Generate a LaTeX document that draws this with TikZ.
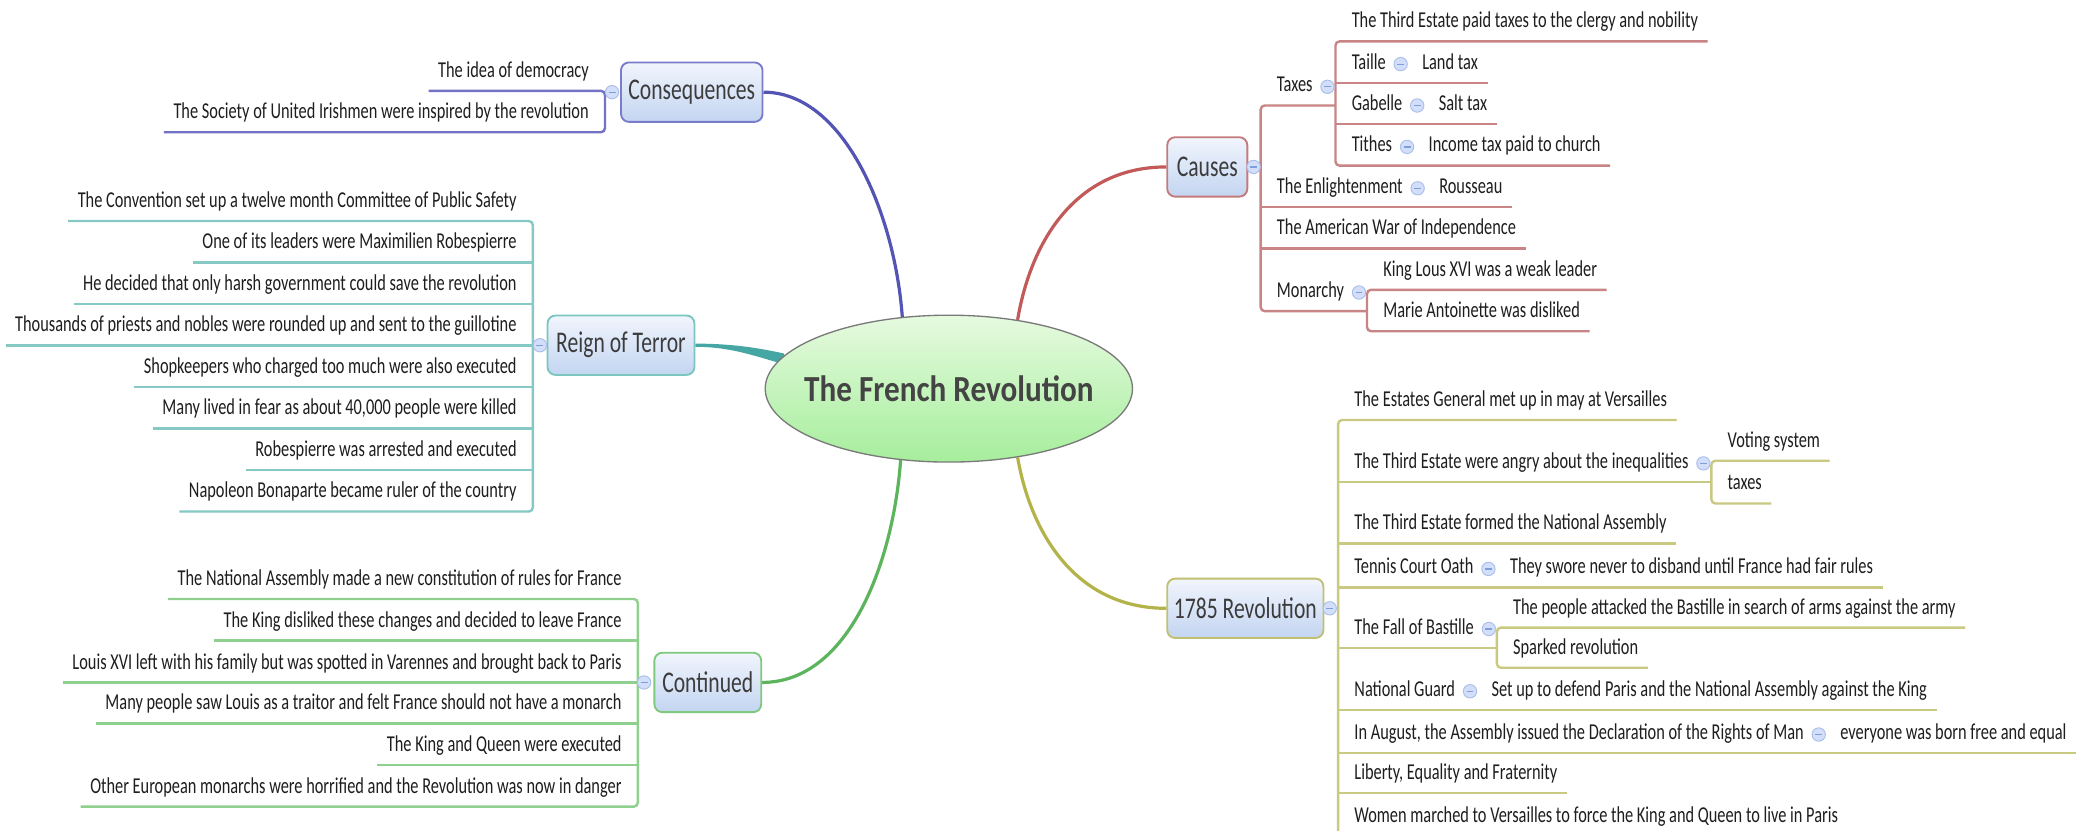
\documentclass[tikz,border=0pt]{standalone}
\usepackage{fontspec}
\usetikzlibrary{shapes.geometric,backgrounds,calc}
\newfontfamily\leaffont{Carlito}[FakeStretch=0.72]
\newfontfamily\titlefont{Carlito}[FakeStretch=0.85]

\definecolor{txt}{HTML}{1E1E1E}
\definecolor{boxTxt}{HTML}{3C3C3C}
\definecolor{boxT}{HTML}{F1F5FD}
\definecolor{boxB}{HTML}{C3D5F1}
\definecolor{ellT}{HTML}{E6FADF}
\definecolor{ellB}{HTML}{A6EE9C}
\definecolor{ellD}{HTML}{7A7A7A}
\definecolor{titleT}{HTML}{444444}
\definecolor{togF}{HTML}{D3DFFA}
\definecolor{togB}{HTML}{A9BFEA}
\definecolor{togM}{HTML}{7F9FD8}
% branch colours: main connector, box border, underline
\definecolor{consM}{HTML}{5454B4}\definecolor{consB}{HTML}{7B7BCC}\definecolor{consL}{HTML}{7272C6}
\definecolor{reignM}{HTML}{45A6A4}\definecolor{reignB}{HTML}{7CC6C0}\definecolor{reignL}{HTML}{86C9C4}
\definecolor{contM}{HTML}{5CB45C}\definecolor{contB}{HTML}{7FC97F}\definecolor{contL}{HTML}{8FD08F}
\definecolor{causM}{HTML}{C25A5A}\definecolor{causB}{HTML}{C57A7A}\definecolor{causL}{HTML}{C98585}
\definecolor{revM}{HTML}{B3B34A}\definecolor{revB}{HTML}{C0C070}\definecolor{revL}{HTML}{C9C982}

\begin{document}
\begin{tikzpicture}[x=1pt,y=-1pt,
  leaf/.style={font=\leaffont\fontsize{17}{20}\selectfont, text=txt, inner xsep=7pt,
               inner ysep=6pt, text height=12pt, text depth=4pt},
  lR/.style={leaf, anchor=south west},
  lL/.style={leaf, anchor=south east},
  topic/.style={rectangle, rounded corners=6pt, draw=#1, line width=1.4pt,
                top color=boxT, bottom color=boxB, minimum height=44.5pt, inner sep=0pt,
                font=\leaffont\fontsize{22.5}{26}\selectfont, text=boxTxt},
  centre/.style={ellipse, draw=ellD, line width=1pt, top color=ellT, bottom color=ellB,
                minimum width=275pt, minimum height=110pt, inner sep=0pt},
  titletext/.style={inner sep=0pt, font=\titlefont\bfseries\fontsize{27.5}{30}\selectfont, text=titleT},
  tog/.style={circle, draw=togB, fill=togF, line width=0.7pt, minimum size=10pt, inner sep=0pt,
              path picture={\draw[togM, line width=0.9pt]
                ([xshift=-2.6pt]path picture bounding box.center) --
                ([xshift=2.6pt]path picture bounding box.center);}},
  ln/.style={draw=#1, line width=1.8pt, rounded corners=3pt},
  mainc/.style={draw=#1, line width=2.4pt}
]
\useasboundingbox (0,0) rectangle (1568,622);

% central topic
\node[centre] (fr) at (710.5,291) {};
\node[titletext] (frt) at (fr.center) {The French Revolution};

% main topics
\node[topic=consB, minimum width=106pt] (cons) at (518,69) {Consequences};
\node[topic=reignB, minimum width=110pt] (reign) at (465,258.5) {Reign of Terror};
\node[topic=contB, minimum width=80pt] (cont) at (530,511) {Continued};
\node[topic=causB, minimum width=60pt] (caus) at (904,125) {Causes};
\node[topic=revB, minimum width=117pt] (rev) at (932.5,455.5) {1785 Revolution};

% ---------- Consequences ----------
\node[lL] (c1) at (448,68) {The idea of democracy};
\node[lL] (c2) at (448,99) {The Society of United Irishmen were inspired by the revolution};

% ---------- Reign of Terror ----------
\node[lL] (r1) at (394,165.5) {The Convention set up a twelve month Committee of Public Safety};
\node[lL] (r2) at (394,196.6) {One of its leaders were Maximilien Robespierre};
\node[lL] (r3) at (394,227.6) {He decided that only harsh government could save the revolution};
\node[lL] (r4) at (394,258.7) {Thousands of priests and nobles were rounded up and sent to the guillotine};
\node[lL] (r5) at (394,289.8) {Shopkeepers who charged too much were also executed};
\node[lL] (r6) at (394,320.9) {Many lived in fear as about 40,000 people were killed};
\node[lL] (r7) at (394,351.9) {Robespierre was arrested and executed};
\node[lL] (r8) at (394,383.0) {Napoleon Bonaparte became ruler of the country};

% ---------- Continued ----------
\node[lL] (k1) at (472.6,448.5) {The National Assembly made a new constitution of rules for France};
\node[lL] (k2) at (472.6,479.7) {The King disliked these changes and decided to leave France};
\node[lL] (k3) at (472.6,511.2) {Louis XVI left with his family but was spotted in Varennes and brought back to Paris};
\node[lL] (k4) at (472.6,541.6) {Many people saw Louis as a traitor and felt France should not have a monarch};
\node[lL] (k5) at (472.6,572.8) {The King and Queen were executed};
\node[lL] (k6) at (472.6,604.0) {Other European monarchs were horrified and the Revolution was now in danger};

% ---------- Causes ----------
\node[lR] (taxes) at (949,79) {Taxes};
\node[tog] (taxesT) at ([xshift=4pt,yshift=14pt]taxes.south east) {};
\coordinate (taxesS) at ([xshift=6pt,yshift=-14pt]taxesT.center);
\node[lR] (t1) at ([xshift=5pt,yshift=48pt]taxesS) {The Third Estate paid taxes to the clergy and nobility};
\node[lR] (t2) at ([xshift=5pt,yshift=17pt]taxesS) {Taille};
\node[tog] (t2T) at ([xshift=4pt,yshift=14pt]t2.south east) {};
\node[lR] (t2a) at ([xshift=9pt,yshift=-14pt]t2T.center) {Land tax};
\node[lR] (t3) at ([xshift=5pt,yshift=-14pt]taxesS) {Gabelle};
\node[tog] (t3T) at ([xshift=4pt,yshift=14pt]t3.south east) {};
\node[lR] (t3a) at ([xshift=9pt,yshift=-14pt]t3T.center) {Salt tax};
\node[lR] (t4) at ([xshift=5pt,yshift=-45pt]taxesS) {Tithes};
\node[tog] (t4T) at ([xshift=4pt,yshift=14pt]t4.south east) {};
\node[lR] (t4a) at ([xshift=9pt,yshift=-14pt]t4T.center) {Income tax paid to church};

\node[lR] (enl) at (949,155) {The Enlightenment};
\node[tog] (enlT) at ([xshift=4pt,yshift=14pt]enl.south east) {};
\node[lR] (enla) at ([xshift=9pt,yshift=-14pt]enlT.center) {Rousseau};
\node[lR] (amer) at (949,186) {The American War of Independence};

\node[lR] (mon) at (949,233) {Monarchy};
\node[tog] (monT) at ([xshift=4pt,yshift=14pt]mon.south east) {};
\coordinate (monS) at ([xshift=6pt,yshift=-14pt]monT.center);
\node[lR] (m1) at ([xshift=5pt,yshift=16pt]monS) {King Lous XVI was a weak leader};
\node[lR] (m2) at ([xshift=5pt,yshift=-15pt]monS) {Marie Antoinette was disliked};

% ---------- 1785 Revolution ----------
\node[lR] (e1) at (1007,314.5) {The Estates General met up in may at Versailles};
\node[lR] (e2) at (1007,361) {The Third Estate were angry about the inequalities};
\node[tog] (e2T) at ([xshift=4pt,yshift=14pt]e2.south east) {};
\coordinate (e2S) at ([xshift=6pt,yshift=-14pt]e2T.center);
\node[lR] (e2a) at ([xshift=5pt,yshift=16pt]e2S) {Voting system};
\node[lR] (e2b) at ([xshift=5pt,yshift=-16pt]e2S) {taxes};
\node[lR] (e3) at (1007,407) {The Third Estate formed the National Assembly};
\node[lR] (e4) at (1007,440) {Tennis Court Oath};
\node[tog] (e4T) at ([xshift=4pt,yshift=14pt]e4.south east) {};
\node[lR] (e4a) at ([xshift=9pt,yshift=-14pt]e4T.center) {They swore never to disband until France had fair rules};
\node[lR] (e5) at (1007,485) {The Fall of Bastille};
\node[tog] (e5T) at ([xshift=4pt,yshift=14pt]e5.south east) {};
\coordinate (e5S) at ([xshift=6pt,yshift=-14pt]e5T.center);
\node[lR] (e5a) at ([xshift=5pt,yshift=15pt]e5S) {The people attacked the Bastille in search of arms against the army};
\node[lR] (e5b) at ([xshift=5pt,yshift=-15pt]e5S) {Sparked revolution};
\node[lR] (e6) at (1007,531.6) {National Guard};
\node[tog] (e6T) at ([xshift=4pt,yshift=14pt]e6.south east) {};
\node[lR] (e6a) at ([xshift=9pt,yshift=-14pt]e6T.center) {Set up to defend Paris and the National Assembly against the King};
\node[lR] (e7) at (1007,564) {In August, the Assembly issued the Declaration of the Rights of Man};
\node[tog] (e7T) at ([xshift=4pt,yshift=14pt]e7.south east) {};
\node[lR] (e7a) at ([xshift=9pt,yshift=-14pt]e7T.center) {everyone was born free and equal};
\node[lR] (e8) at (1007,594) {Liberty, Equality and Fraternity};
\node[lR] (e9) at (1007,626) {Women marched to Versailles to force the King and Queen to live in Paris};

% collapse toggles of the main topics
\node[tog] (consT) at ([xshift=-6pt]cons.west) {};
\node[tog] (reignT) at ([xshift=-5pt]reign.west) {};
\node[tog] (contT) at ([xshift=-7pt]cont.west) {};
\node[tog] (causT) at ([xshift=4pt]caus.east) {};
\node[tog] (revT) at ([xshift=4pt]rev.east) {};

\begin{pgfonlayer}{background}
\fill[white] (0,0) rectangle (1568,622);

% curved connectors from the central topic
\draw[mainc=consM] (cons.east) .. controls (632,69) and (670,160) .. (fr.123);
\draw[mainc=causM] (caus.west) .. controls (806,125) and (772,180) .. (fr.45);
\draw[mainc=contM] (cont.east) .. controls (636,511) and (669,420) .. (fr.236);
\draw[mainc=revM] (rev.west) .. controls (806,455.5) and (772,400) .. (fr.315);
\fill[reignM] ([yshift=1.2pt]reign.east) .. controls (548,257.3) and (568,260.5) .. ($(fr.170)+(3,-4)$)
  -- ($(fr.170)+(3,4)$) .. controls (566,267) and (548,259.7) .. ([yshift=-1.2pt]reign.east) -- cycle;

% Consequences
\draw[ln=consL] (c1.south west) -- ([xshift=5pt]c1.south east) -- ([xshift=5pt]c2.south east) -- (c2.south west);

% Reign of Terror
\draw[ln=reignL] (r1.south west) -- ([xshift=5pt]r1.south east) -- ([xshift=5pt]r8.south east) -- (r8.south west);
\foreach \n in {r2,r3,r4,r5,r6,r7}
  \draw[ln=reignL] (\n.south west) -- ([xshift=5pt]\n.south east);

% Continued
\draw[ln=contL] (k1.south west) -- ([xshift=5pt]k1.south east) -- ([xshift=5pt]k6.south east) -- (k6.south west);
\foreach \n in {k2,k3,k4,k5}
  \draw[ln=contL] (\n.south west) -- ([xshift=5pt]\n.south east);

% Causes
\draw[ln=causL] (taxesS) -- ([xshift=-5pt]taxes.south west) -- ([xshift=-5pt]mon.south west) -- (monS);
\draw[ln=causL] ([xshift=-5pt]enl.south west) -- (enla.south east);
\draw[ln=causL] ([xshift=-5pt]amer.south west) -- (amer.south east);
\draw[ln=causL] (t1.south east) -- ([xshift=-5pt]t1.south west) -- ([xshift=-5pt]t4.south west) -- (t4a.south east);
\draw[ln=causL] ([xshift=-5pt]t2.south west) -- (t2a.south east);
\draw[ln=causL] ([xshift=-5pt]t3.south west) -- (t3a.south east);
\draw[ln=causL] (m1.south east) -- ([xshift=-5pt]m1.south west) -- ([xshift=-5pt]m2.south west) -- (m2.south east);

% 1785 Revolution
\draw[ln=revL] (e1.south east) -- ([xshift=-5pt]e1.south west) -- ([xshift=-5pt]e9.south west) -- (e9.south east);
\draw[ln=revL] ([xshift=-5pt]e2.south west) -- (e2S);
\draw[ln=revL] (e2a.south east) -- ([xshift=-5pt]e2a.south west) -- ([xshift=-5pt]e2b.south west) -- (e2b.south east);
\draw[ln=revL] ([xshift=-5pt]e3.south west) -- (e3.south east);
\draw[ln=revL] ([xshift=-5pt]e4.south west) -- (e4a.south east);
\draw[ln=revL] ([xshift=-5pt]e5.south west) -- (e5S);
\draw[ln=revL] (e5a.south east) -- ([xshift=-5pt]e5a.south west) -- ([xshift=-5pt]e5b.south west) -- (e5b.south east);
\draw[ln=revL] ([xshift=-5pt]e6.south west) -- (e6a.south east);
\draw[ln=revL] ([xshift=-5pt]e7.south west) -- (e7a.south east);
\draw[ln=revL] ([xshift=-5pt]e8.south west) -- (e8.south east);
\end{pgfonlayer}
\end{tikzpicture}
\end{document}
